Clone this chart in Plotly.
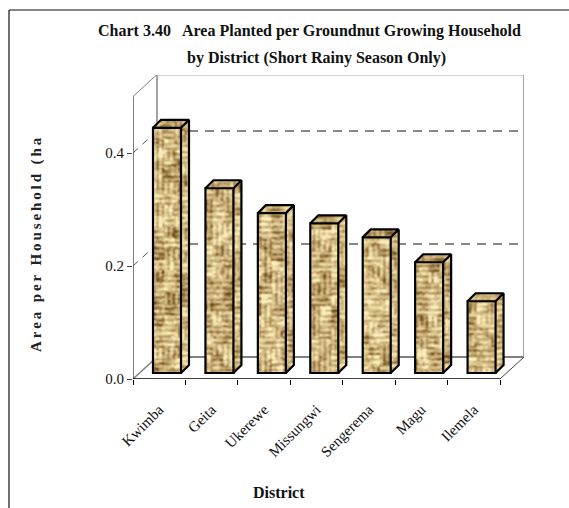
import base64, struct, zlib
import numpy as np
import plotly.graph_objects as go

districts = ["Kwimba", "Geita", "Ukerewe", "Missungwi", "Sengerema", "Magu", "Ilemela"]
area_per_household = [0.434, 0.327, 0.283, 0.265, 0.240, 0.196, 0.127]
y_ticks = [0.0, 0.2, 0.4]
y_tick_labels = ["0.0", "0.2", "0.4"]
title_lines = ["Chart 3.40   Area Planted per Groundnut Growing Household",
               "by District (Short Rainy Season Only)"]
x_title = "District"
y_title = "Area per Household (ha"

W, H = 569, 508
L, R, T, B = 133, 524, 75, 379          # plot box in pixels
PX_X = 367 / 7                          # pixels per category
PX_Y = 565.0                            # pixels per unit of y
DEPTH_X, DEPTH_Y = 24 / PX_X, 22 / PX_Y # wall depth in data units
BAR_W_PX, BAR_D_PX = 28, 8
BAR_W = BAR_W_PX / PX_X
BAR_DX, BAR_DY = BAR_D_PX / PX_X, BAR_D_PX / PX_Y
BAR_SHIFT = 0.1485
BAR_BASE = 6 / PX_Y
X_MIN, X_MAX = -0.5, 6.5 + DEPTH_X
Y_MAX = (B - T) / PX_Y
WALL_TOP = 0.5


def png_uri(rgba):
    h, w = rgba.shape[:2]
    raw = b"".join(b"\x00" + rgba[r].tobytes() for r in range(h))
    def chunk(tag, data):
        c = struct.pack(">I", len(data)) + tag + data
        return c + struct.pack(">I", zlib.crc32(tag + data) & 0xffffffff)
    body = b"\x89PNG\r\n\x1a\n" + chunk(b"IHDR", struct.pack(">IIBBBBB", w, h, 8, 6, 0, 0, 0)) \
        + chunk(b"IDAT", zlib.compress(raw)) + chunk(b"IEND", b"")
    return "data:image/png;base64," + base64.b64encode(body).decode()


def hash2(a, b):
    s = np.sin(a * 12.9898 + b * 78.233) * 43758.5453
    return s - np.floor(s)


def weave(h, w, seed, tone=1.0):
    """Mottled basket-weave texture (appearance only)."""
    yy, xx = np.mgrid[0:h, 0:w].astype(float)
    xx += seed * 37
    yy += seed * 53
    cell = 11
    cx, cy = np.floor(xx / cell), np.floor(yy / cell)
    horiz = hash2(cx, cy) > 0.35
    stripes = np.where(horiz, np.sin(yy * 2 * np.pi / 5.5), np.sin(xx * 2 * np.pi / 5.5))
    tiny = hash2(np.floor(xx / 3), np.floor(yy / 2)) - 0.5
    cellshade = hash2(cx + 5, cy + 9) - 0.5
    blot = np.sin(xx * 0.31 + 1.3 * np.sin(yy * 0.19)) * np.cos(yy * 0.27 + seed)
    v = 0.58 + 0.15 * stripes + 0.30 * tiny + 0.32 * cellshade + 0.12 * blot
    # soften
    for axis in (0, 1):
        v = (np.roll(v, 1, axis) + 2 * v + np.roll(v, -1, axis)) / 4
    v = np.clip((v - 0.58) * 1.5 + 0.6, 0, 1) * tone
    v = v[..., None]
    dark = np.array([112, 80, 34.0])
    mid = np.array([196, 168, 112.0])
    light = np.array([250, 236, 186.0])
    return np.where(v < 0.5, dark + (mid - dark) * v * 2, mid + (light - mid) * (v - 0.5) * 2)


def to_rgba(rgb, mask=None):
    a = np.full(rgb.shape[:2] + (1,), 255.0) if mask is None else mask[..., None] * 255.0
    return np.concatenate([rgb, a], axis=2).astype(np.uint8)


fig = go.Figure()

# Walls and floor (drawn underneath the bar textures)
wall = "#a3a3a3"
def seg(x0, y0, x1, y1, color=wall, width=2, dash="solid"):
    return dict(type="line", xref="x", yref="y", x0=x0, y0=y0, x1=x1, y1=y1, layer="below",
                line=dict(color=color, width=width, dash=dash))

back_l, back_r = X_MIN + DEPTH_X, X_MAX
front_l, front_r = X_MIN, X_MAX - DEPTH_X
shapes = [
    seg(back_l, DEPTH_Y, back_r, DEPTH_Y, "#808080"),
    seg(back_l, DEPTH_Y, back_l, WALL_TOP + DEPTH_Y),
    seg(back_r, DEPTH_Y, back_r, WALL_TOP + DEPTH_Y),
    seg(back_l, WALL_TOP + DEPTH_Y, back_r, WALL_TOP + DEPTH_Y),
    seg(front_l, WALL_TOP, back_l, WALL_TOP + DEPTH_Y, "#808080", 1),
    seg(front_l, 0, back_l, DEPTH_Y, "#808080", 1.5),
    seg(front_r, 0, back_r, DEPTH_Y, "#404040", 1),
    seg(front_l, 0, front_l, WALL_TOP, "#505050", 1.5),
    seg(front_l, 0, front_r, 0, "#000000", 1.5),
]
for g in y_ticks[1:]:
    shapes.append(seg(back_l, g + DEPTH_Y, back_r, g + DEPTH_Y, "#606060", 1.5, "9px,7px"))
    shapes.append(seg(front_l, g, back_l, g + DEPTH_Y, "#555555", 1, "7px,6px"))

# Report frame, partly outside the plot box
def px(v):
    return (v - L) / (R - L)
def py(v):
    return (B - v) / (B - T)
for x0, y0, x1, y1 in [(9, 10, W, 10), (9, 10, 9, H)]:
    shapes.append(dict(type="line", xref="paper", yref="paper", x0=px(x0), y0=py(y0), x1=px(x1), y1=py(y1),
                       line=dict(color="#111111", width=1.2), layer="above"))

images = []
xs = np.arange(len(districts)) + BAR_SHIFT
for i, (xc, v) in enumerate(zip(xs, area_per_household)):
    x0, x1 = xc - BAR_W / 2, xc + BAR_W / 2
    top = BAR_BASE + v
    hpx = int(round(v * PX_Y))
    # front
    images.append(dict(source=png_uri(to_rgba(weave(hpx, BAR_W_PX, i))), xref="x", yref="y", x=x0, y=top,
                       sizex=BAR_W, sizey=v, sizing="stretch", xanchor="left", yanchor="top", layer="below"))
    # right side (sheared)
    sh, sw = hpx + BAR_D_PX, BAR_D_PX
    yy, xx = np.mgrid[0:sh, 0:sw]
    mask = ((xx + yy >= BAR_D_PX - 1) & (xx + yy <= hpx + BAR_D_PX - 1)).astype(float)
    images.append(dict(source=png_uri(to_rgba(weave(sh, sw, i + 11, 0.95), mask)), xref="x", yref="y", x=x1, y=top + BAR_DY,
                       sizex=BAR_DX, sizey=v + BAR_DY, sizing="stretch", xanchor="left", yanchor="top", layer="below"))
    # top (sheared)
    th, tw = BAR_D_PX, BAR_W_PX + BAR_D_PX
    yy, xx = np.mgrid[0:th, 0:tw]
    off = BAR_D_PX - 1 - yy
    mask = ((xx >= off) & (xx < off + BAR_W_PX)).astype(float)
    images.append(dict(source=png_uri(to_rgba(weave(th, tw, i + 23, 0.88), mask)), xref="x", yref="y", x=x0, y=top + BAR_DY,
                       sizex=BAR_W + BAR_DX, sizey=BAR_DY, sizing="stretch", xanchor="left", yanchor="top", layer="below"))

# Front faces of the bars
fig.add_trace(go.Bar(x=xs, y=area_per_household, base=BAR_BASE, width=BAR_W,
                     marker=dict(color="rgba(0,0,0,0)", line=dict(color="#000000", width=2.2)),
                     showlegend=False, cliponaxis=False))

# Side and top outlines of the bars
for xc, v in zip(xs, area_per_household):
    x0, x1 = xc - BAR_W / 2, xc + BAR_W / 2
    top = BAR_BASE + v
    fig.add_trace(go.Scatter(
        x=[x0, x0 + BAR_DX, x1 + BAR_DX, x1, x1 + BAR_DX, x1 + BAR_DX, x1],
        y=[top, top + BAR_DY, top + BAR_DY, top, top + BAR_DY, BAR_BASE + BAR_DY, BAR_BASE],
        mode="lines", line=dict(color="#000000", width=2.2), showlegend=False, hoverinfo="skip",
        cliponaxis=False))

font = "Liberation Serif"
title_font = dict(family=font, size=16, color="#111111")
fig.update_layout(
    width=W, height=H, margin=dict(l=L, r=W - R, t=T, b=H - B),
    paper_bgcolor="white", plot_bgcolor="rgba(0,0,0,0)", barmode="overlay", showlegend=False,
    font=dict(family=font, color="#111111"),
    shapes=shapes, images=images,
    xaxis=dict(range=[X_MIN, X_MAX], tickvals=list(range(len(districts))), ticktext=districts,
               tickangle=-45, ticks="", showgrid=False, zeroline=False, showline=False,
               tickfont=dict(family=font, size=15, color="#111111"), ticklabelstandoff=18,
               minor=dict(tickvals=[k - 0.5 for k in range(len(districts) + 1)], ticks="outside",
                          ticklen=5, tickcolor="#000000", tickwidth=1, showgrid=False)),
    yaxis=dict(range=[0, Y_MAX], tickvals=y_ticks, ticktext=y_tick_labels, ticks="outside", ticklen=5,
               tickcolor="#444444", showgrid=False, zeroline=False, showline=False,
               tickfont=dict(family=font, size=15, color="#111111")),
    annotations=[
        dict(text="<b>" + title_lines[0] + "</b>", xref="paper", yref="paper",
             x=px(309), y=py(31), xanchor="center", yanchor="middle", showarrow=False, font=title_font),
        dict(text="<b>" + title_lines[1] + "</b>", xref="paper", yref="paper",
             x=px(316), y=py(58), xanchor="center", yanchor="middle", showarrow=False, font=title_font),
        dict(text="<b>" + x_title + "</b>", xref="paper", yref="paper", x=px(279), y=py(492),
             xanchor="center", yanchor="middle", showarrow=False, font=dict(family=font, size=16, color="#111111")),
        dict(text="<b>" + y_title + "</b>", xref="paper", yref="paper", x=px(37), y=py(243), textangle=-90,
             xanchor="center", yanchor="middle", showarrow=False, font=dict(family=font, size=15, color="#222222")),
    ],
)

post = """
document.body.style.margin='0';
document.querySelectorAll('.annotation-text').forEach(function(t){
  if(t.textContent.indexOf('Area per')===0){t.style.letterSpacing='2.9px';}
});
"""
fig.write_html("out.html", post_script=post, config={"displayModeBar": False})
